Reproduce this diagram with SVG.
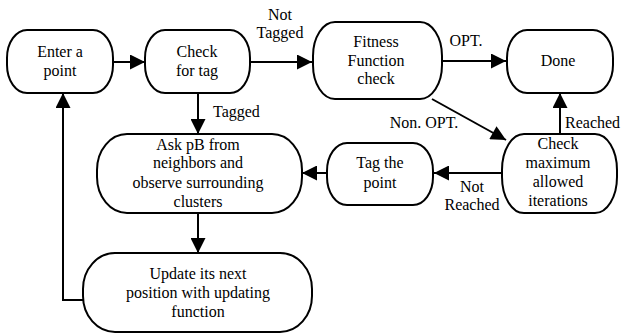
<svg xmlns="http://www.w3.org/2000/svg" width="624" height="333" viewBox="0 0 624 333" font-family="'Liberation Serif', 'Times New Roman', serif" font-size="16">
<style>
.n{fill:#fff;stroke:#000;stroke-width:2}
.c{stroke:#000;stroke-width:2;fill:none}
text{fill:#000}
.m{text-anchor:middle}
</style>
<defs>
<marker id="ah" viewBox="0 0 10 10" refX="10" refY="5" markerWidth="17" markerHeight="15" orient="auto" markerUnits="userSpaceOnUse">
<path d="M0,0L10,5L0,10z" fill="#000"/>
</marker>
</defs>
<rect width="624" height="333" fill="#fff"/>
<g id="connectors">
<path class="c" d="M113,62H145" marker-end="url(#ah)"/>
<path class="c" d="M250,62H312" marker-end="url(#ah)"/>
<path class="c" d="M442,61H506" marker-end="url(#ah)"/>
<path class="c" d="M432,99L506,140" marker-end="url(#ah)"/>
<path class="c" d="M560,134V93" marker-end="url(#ah)"/>
<path class="c" d="M502,173H434" marker-end="url(#ah)"/>
<path class="c" d="M327,173H302" marker-end="url(#ah)"/>
<path class="c" d="M198,93V134" marker-end="url(#ah)"/>
<path class="c" d="M198,213V253" marker-end="url(#ah)"/>
<path class="c" d="M83,300H63V93" marker-end="url(#ah)"/>
<text x="280" y="20" class="m">Not</text>
<text x="280" y="38" class="m">Tagged</text>
<text x="466" y="46" class="m">OPT.</text>
<text x="424" y="128" class="m">Non. OPT.</text>
<text x="565" y="128">Reached</text>
<text x="472" y="192" class="m">Not</text>
<text x="472" y="210" class="m">Reached</text>
<text x="213" y="117">Tagged</text>
</g>
<g id="enter">
<rect class="n" x="7" y="30" width="106" height="63" rx="20" ry="28"/>
<text x="60" y="57" class="m">Enter a</text>
<text x="60" y="76" class="m">point</text>
</g>
<g id="checktag">
<rect class="n" x="145" y="30" width="105" height="63" rx="20" ry="28"/>
<text x="197" y="57" class="m">Check</text>
<text x="197" y="76" class="m">for tag</text>
</g>
<g id="fitness">
<rect class="n" x="313" y="22" width="129" height="77" rx="22" ry="34"/>
<text x="376" y="47" class="m">Fitness</text>
<text x="376" y="66" class="m">Function</text>
<text x="376" y="84" class="m">check</text>
</g>
<g id="done">
<rect class="n" x="507" y="30" width="106" height="63" rx="20" ry="28"/>
<text x="558" y="66" class="m">Done</text>
</g>
<g id="checkmax">
<rect class="n" x="502" y="134" width="115" height="79" rx="22" ry="36"/>
<text x="558" y="149" class="m">Check</text>
<text x="558" y="168" class="m">maximum</text>
<text x="558" y="187" class="m">allowed</text>
<text x="558" y="206" class="m">iterations</text>
</g>
<g id="tag">
<rect class="n" x="327" y="143" width="106" height="62" rx="20" ry="28"/>
<text x="380" y="168" class="m">Tag the</text>
<text x="380" y="188" class="m">point</text>
</g>
<g id="ask">
<rect class="n" x="97" y="134" width="205" height="79" rx="30" ry="36"/>
<text x="198" y="150" class="m">Ask pB from</text>
<text x="198" y="168" class="m">neighbors and</text>
<text x="198" y="188" class="m">observe surrounding</text>
<text x="198" y="207" class="m">clusters</text>
</g>
<g id="update">
<rect class="n" x="83" y="253" width="229" height="79" rx="32" ry="36"/>
<text x="198" y="279" class="m">Update its next</text>
<text x="198" y="298" class="m">position with updating</text>
<text x="198" y="317" class="m">function</text>
</g>
</svg>
